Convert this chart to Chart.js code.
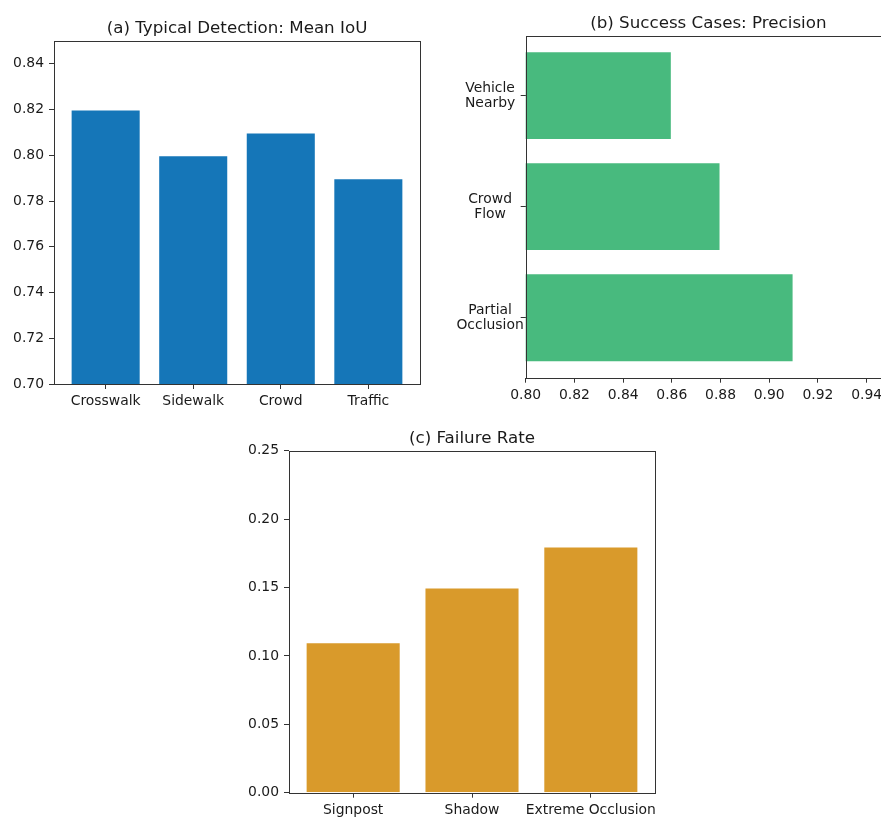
<!DOCTYPE html>
<html>
<head>
<meta charset="utf-8">
<title>Detection results</title>
<script src="https://cdn.jsdelivr.net/npm/chart.js@4.4.1/dist/chart.umd.min.js"></script>
<style>
    html, body {
        margin: 0;
        padding: 0;
        background: #ffffff;
        width: 881px;
        height: 819px;
        overflow: hidden;
    }
    .panel {
        position: absolute;
    }
    .panel canvas {
        display: block;
    }
</style>
</head>
<body>

<div class="panel" style="left:0px; top:0px;">
    <canvas id="chartA" width="440" height="420"></canvas>
</div>

<div class="panel" style="left:440px; top:0px;">
    <canvas id="chartB" width="470" height="420"></canvas>
</div>

<div class="panel" style="left:230px; top:410px;">
    <canvas id="chartC" width="450" height="409"></canvas>
</div>

<script>
// ===============================
// DATA
// ===============================

const categoriesA = ["Crosswalk", "Sidewalk", "Crowd", "Traffic"];
const meanIoU = [0.82, 0.80, 0.81, 0.79];
const ticksA = [0.70, 0.72, 0.74, 0.76, 0.78, 0.80, 0.82, 0.84];

const categoriesB = [["Partial", "Occlusion"], ["Crowd", "Flow"], ["Vehicle", "Nearby"]];
const precision = [0.91, 0.88, 0.86];
const ticksB = [0.80, 0.82, 0.84, 0.86, 0.88, 0.90, 0.92, 0.94];

const categoriesC = ["Signpost", "Shadow", "Extreme Occlusion"];
const failureRate = [0.11, 0.15, 0.18];
const ticksC = [0.00, 0.05, 0.10, 0.15, 0.20, 0.25];

// ===============================
// SHARED STYLE
// ===============================

Chart.defaults.font.family = "'DejaVu Sans', sans-serif";
Chart.defaults.font.size = 13.9;
Chart.defaults.color = "#1a1a1a";

const axisColor = "#333333";

// axes frame + title centred on the plot area
const framePlugin = {

    id: "frame",

    afterDraw(chart, args, opts) {

        const a = chart.chartArea;
        const ctx = chart.ctx;

        ctx.save();

        ctx.strokeStyle = axisColor;
        ctx.lineWidth = 1;
        ctx.strokeRect(
            Math.round(a.left) + 0.5,
            Math.round(a.top) + 0.5,
            Math.round(a.right) - Math.round(a.left),
            Math.round(a.bottom) - Math.round(a.top)
        );

        ctx.fillStyle = "#1a1a1a";
        ctx.font = "16.7px 'DejaVu Sans', sans-serif";
        ctx.textAlign = "center";
        ctx.textBaseline = "alphabetic";
        ctx.fillText(opts.text, (a.left + a.right) / 2, a.top - 8);

        ctx.restore();
    }
};

function fixedTicks(values) {
    return scale => {
        scale.ticks = values.map(v => ({ value: v }));
    };
}

function gridStyle() {
    return {
        offset: false,
        drawOnChartArea: false,
        drawTicks: true,
        tickLength: 5,
        color: axisColor,
        lineWidth: 1
    };
}

// ===============================
// (a) TYPICAL DETECTION
// ===============================

new Chart(document.getElementById("chartA"), {

    type: "bar",

    data: {
        datasets: [{
            data: categoriesA.map((c, i) => ({ x: i, y: meanIoU[i] })),
            backgroundColor: "#1576b8",
            borderColor: "rgba(255,255,255,0.35)",
            borderWidth: 1,
            barPercentage: 0.8,
            categoryPercentage: 1.0,
            clip: 0
        }]
    },

    options: {
        responsive: false,
        animation: false,
        devicePixelRatio: 1,
        layout: { padding: { top: 41, right: 20, left: 0, bottom: 0 } },
        plugins: {
            legend: { display: false },
            tooltip: { enabled: false },
            frame: { text: "(a) Typical Detection: Mean IoU" }
        },
        scales: {
            x: {
                type: "linear",
                offset: false,
                min: -0.59,
                max: 3.59,
                afterBuildTicks: fixedTicks(categoriesA.map((c, i) => i)),
                afterFit: s => { s.height = 36; },
                grid: gridStyle(),
                border: { display: false },
                ticks: {
                    autoSkip: false,
                    maxRotation: 0,
                    padding: 4,
                    callback: v => categoriesA[v]
                }
            },
            y: {
                type: "linear",
                min: 0.70,
                max: 0.85,
                afterBuildTicks: fixedTicks(ticksA),
                afterFit: s => { s.width = 54; },
                grid: gridStyle(),
                border: { display: false },
                ticks: {
                    padding: 5,
                    callback: v => v.toFixed(2)
                }
            }
        }
    },

    plugins: [framePlugin]
});

// ===============================
// (b) SUCCESS CASES
// ===============================

new Chart(document.getElementById("chartB"), {

    type: "bar",

    data: {
        datasets: [{
            data: categoriesB.map((c, i) => ({ x: precision[i], y: i })),
            backgroundColor: "#48ba7e",
            borderColor: "rgba(255,255,255,0.35)",
            borderWidth: 1,
            barPercentage: 0.8,
            categoryPercentage: 1.0,
            clip: 0
        }]
    },

    options: {
        indexAxis: "y",
        responsive: false,
        animation: false,
        devicePixelRatio: 1,
        layout: { padding: { top: 35.7, right: 19, left: 0, bottom: 0 } },
        plugins: {
            legend: { display: false },
            tooltip: { enabled: false },
            frame: { text: "(b) Success Cases: Precision" }
        },
        scales: {
            x: {
                type: "linear",
                min: 0.80,
                max: 0.95,
                afterBuildTicks: fixedTicks(ticksB),
                afterFit: s => { s.height = 42.3; },
                grid: gridStyle(),
                border: { display: false },
                ticks: {
                    autoSkip: false,
                    maxRotation: 0,
                    padding: 4,
                    callback: v => v.toFixed(2)
                }
            },
            y: {
                type: "linear",
                offset: false,
                min: -0.54,
                max: 2.54,
                afterBuildTicks: fixedTicks(categoriesB.map((c, i) => i)),
                afterFit: s => { s.width = 85.7; },
                grid: gridStyle(),
                border: { display: false },
                ticks: {
                    padding: -3,
                    crossAlign: "center",
                    font: { lineHeight: 1.1 },
                    callback: v => categoriesB[v]
                }
            }
        }
    },

    plugins: [framePlugin]
});

// ===============================
// (c) FAILURE RATE
// ===============================

new Chart(document.getElementById("chartC"), {

    type: "bar",

    data: {
        datasets: [{
            data: categoriesC.map((c, i) => ({ x: i, y: failureRate[i] })),
            backgroundColor: "#d99a2b",
            borderColor: "rgba(255,255,255,0.35)",
            borderWidth: 1,
            barPercentage: 0.8,
            categoryPercentage: 1.0,
            clip: 0
        }]
    },

    options: {
        responsive: false,
        animation: false,
        devicePixelRatio: 1,
        layout: { padding: { top: 40.7, right: 25, left: 0, bottom: 0 } },
        plugins: {
            legend: { display: false },
            tooltip: { enabled: false },
            frame: { text: "(c) Failure Rate" }
        },
        scales: {
            x: {
                type: "linear",
                offset: false,
                min: -0.54,
                max: 2.54,
                afterBuildTicks: fixedTicks(categoriesC.map((c, i) => i)),
                afterFit: s => { s.height = 26.3; },
                grid: gridStyle(),
                border: { display: false },
                ticks: {
                    autoSkip: false,
                    maxRotation: 0,
                    padding: 4,
                    callback: v => categoriesC[v]
                }
            },
            y: {
                type: "linear",
                min: 0,
                max: 0.25,
                afterBuildTicks: fixedTicks(ticksC),
                afterFit: s => { s.width = 59; },
                grid: gridStyle(),
                border: { display: false },
                ticks: {
                    padding: 5,
                    callback: v => v.toFixed(2)
                }
            }
        }
    },

    plugins: [framePlugin]
});
</script>
</body>
</html>
